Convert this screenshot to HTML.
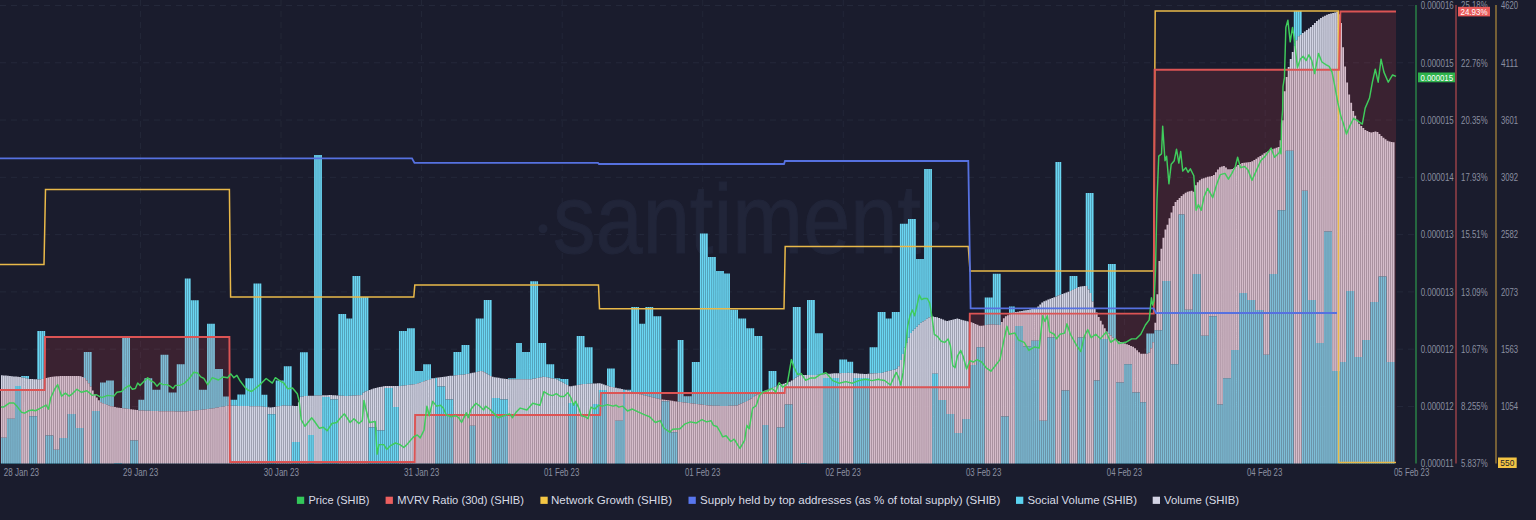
<!DOCTYPE html>
<html><head><meta charset="utf-8"><style>
html,body{margin:0;padding:0;background:#1a1c2d;width:1536px;height:520px;overflow:hidden;position:relative;font-family:"Liberation Sans",sans-serif}
.sq{position:absolute;top:497px;width:7.5px;height:7.5px}
.lt{position:absolute;top:492.5px;font-size:12.6px;line-height:15px;color:#d5d8e2;white-space:nowrap}
</style></head><body>
<svg width="1536" height="520" viewBox="0 0 1536 520" style="position:absolute;left:0;top:0">
<line x1="0" y1="5.5" x2="1414" y2="5.5" stroke="#24283a" stroke-width="1" stroke-dasharray="6 5"/>
<line x1="0" y1="62.78" x2="1414" y2="62.78" stroke="#24283a" stroke-width="1" stroke-dasharray="6 5"/>
<line x1="0" y1="120.06" x2="1414" y2="120.06" stroke="#24283a" stroke-width="1" stroke-dasharray="6 5"/>
<line x1="0" y1="177.34" x2="1414" y2="177.34" stroke="#24283a" stroke-width="1" stroke-dasharray="6 5"/>
<line x1="0" y1="234.62" x2="1414" y2="234.62" stroke="#24283a" stroke-width="1" stroke-dasharray="6 5"/>
<line x1="0" y1="291.9" x2="1414" y2="291.9" stroke="#24283a" stroke-width="1" stroke-dasharray="6 5"/>
<line x1="0" y1="349.18" x2="1414" y2="349.18" stroke="#24283a" stroke-width="1" stroke-dasharray="6 5"/>
<line x1="0" y1="406.46" x2="1414" y2="406.46" stroke="#24283a" stroke-width="1" stroke-dasharray="6 5"/>
<line x1="140.5" y1="0" x2="140.5" y2="463" stroke="#222637" stroke-width="1" stroke-dasharray="6 5"/>
<line x1="281" y1="0" x2="281" y2="463" stroke="#222637" stroke-width="1" stroke-dasharray="6 5"/>
<line x1="421.5" y1="0" x2="421.5" y2="463" stroke="#222637" stroke-width="1" stroke-dasharray="6 5"/>
<line x1="562.2" y1="0" x2="562.2" y2="463" stroke="#222637" stroke-width="1" stroke-dasharray="6 5"/>
<line x1="702.7" y1="0" x2="702.7" y2="463" stroke="#222637" stroke-width="1" stroke-dasharray="6 5"/>
<line x1="843.3" y1="0" x2="843.3" y2="463" stroke="#222637" stroke-width="1" stroke-dasharray="6 5"/>
<line x1="984" y1="0" x2="984" y2="463" stroke="#222637" stroke-width="1" stroke-dasharray="6 5"/>
<line x1="1124.5" y1="0" x2="1124.5" y2="463" stroke="#222637" stroke-width="1" stroke-dasharray="6 5"/>
<line x1="1265.2" y1="0" x2="1265.2" y2="463" stroke="#222637" stroke-width="1" stroke-dasharray="6 5"/>
<text x="553" y="253" font-family="Liberation Sans" font-size="98" fill="#212539" stroke="#212539" stroke-width="1" textLength="368" lengthAdjust="spacingAndGlyphs">santiment</text>
<circle cx="543" cy="228.8" r="4.5" fill="#212539"/>
<circle cx="935" cy="226" r="4.5" fill="#212539"/>
<path d="M1 375.19h1.75v62.56h-1.75zM3.02 375.39h1.75v62.36h-1.75zM5.04 375.59h1.75v62.16h-1.75zM7.06 375.79h1.75v42.96h-1.75zM9.08 376h1.75v42.75h-1.75zM11.1 376.2h1.75v42.55h-1.75zM13.12 376.4h1.75v42.35h-1.75zM15.14 376.6h1.75v9.4h-1.75zM17.16 376.8h1.75v9.2h-1.75zM19.18 377.01h1.75v8.99h-1.75zM29.28 379.01h1.75v37.24h-1.75zM31.3 379.11h1.75v37.14h-1.75zM33.32 379.21h1.75v37.04h-1.75zM35.34 379.31h1.75v36.94h-1.75zM45.44 377.92h1.75v57.48h-1.75zM47.46 377.42h1.75v57.98h-1.75zM49.48 376.96h1.75v58.44h-1.75zM51.5 376.76h1.75v58.64h-1.75zM53.52 376.56h1.75v73.19h-1.75zM55.54 376.36h1.75v73.39h-1.75zM57.56 376.16h1.75v73.59h-1.75zM59.58 376h1.75v62h-1.75zM61.6 376h1.75v62h-1.75zM63.62 376h1.75v62h-1.75zM65.64 376h1.75v62h-1.75zM67.66 376h1.75v38h-1.75zM69.68 376h1.75v38h-1.75zM71.7 376h1.75v38h-1.75zM73.72 376h1.75v38h-1.75zM75.74 376h1.75v52h-1.75zM77.76 376h1.75v52h-1.75zM79.78 376.26h1.75v51.74h-1.75zM81.8 377.07h1.75v50.93h-1.75zM91.9 390.55h1.75v20.45h-1.75zM93.92 394.59h1.75v16.41h-1.75zM95.94 397.54h1.75v13.46h-1.75zM97.96 400.37h1.75v10.63h-1.75zM114.12 407h1.75v56h-1.75zM116.14 407.4h1.75v55.6h-1.75zM118.16 407.81h1.75v55.19h-1.75zM120.18 408.11h1.75v54.89h-1.75zM130.28 409.17h1.75v31.23h-1.75zM132.3 409.48h1.75v30.92h-1.75zM134.32 409.78h1.75v30.62h-1.75zM136.34 410.08h1.75v30.32h-1.75zM267.64 407.32h1.75v6.98h-1.75zM269.66 407.43h1.75v6.87h-1.75zM271.68 407.15h1.75v7.15h-1.75zM273.7 406.88h1.75v7.42h-1.75zM291.88 405.84h1.75v36.16h-1.75zM293.9 405.9h1.75v36.1h-1.75zM295.92 405.96h1.75v36.04h-1.75zM297.94 402.33h1.75v39.67h-1.75zM308.04 395.85h1.75v39.15h-1.75zM310.06 395.77h1.75v39.23h-1.75zM312.08 395.69h1.75v39.31h-1.75zM322.18 395.31h1.75v1.69h-1.75zM324.2 395.23h1.75v1.77h-1.75zM326.22 395.15h1.75v1.85h-1.75zM328.24 395.07h1.75v1.93h-1.75zM330.26 395.01h1.75v4.59h-1.75zM332.28 395.13h1.75v4.47h-1.75zM334.3 395.26h1.75v4.34h-1.75zM336.32 395.39h1.75v4.21h-1.75zM368.64 389.99h1.75v37.41h-1.75zM370.66 389.26h1.75v38.14h-1.75zM372.68 388.53h1.75v38.87h-1.75zM374.7 387.88h1.75v39.51h-1.75zM376.72 387.48h1.75v43.12h-1.75zM378.74 387.08h1.75v43.52h-1.75zM380.76 386.67h1.75v43.93h-1.75zM382.78 386.27h1.75v44.33h-1.75zM384.8 386h1.75v2h-1.75zM386.82 386h1.75v2h-1.75zM388.84 386h1.75v2h-1.75zM390.86 386h1.75v2h-1.75zM392.88 386h1.75v21h-1.75zM394.9 386h1.75v21h-1.75zM396.92 386h1.75v21h-1.75zM435.3 377.84h1.75v0.16h-1.75zM437.32 377.55h1.75v8.95h-1.75zM439.34 377.26h1.75v9.24h-1.75zM441.36 376.97h1.75v9.53h-1.75zM443.38 376.68h1.75v9.82h-1.75zM445.4 376.39h1.75v23.21h-1.75zM447.42 376.1h1.75v23.5h-1.75zM449.44 375.87h1.75v23.73h-1.75zM451.46 375.67h1.75v23.93h-1.75zM469.64 373.23h1.75v52.47h-1.75zM471.66 372.8h1.75v52.9h-1.75zM473.68 372.38h1.75v53.32h-1.75zM491.86 376.82h1.75v21.18h-1.75zM493.88 377.15h1.75v20.85h-1.75zM495.9 377.48h1.75v20.52h-1.75zM497.92 377.8h1.75v20.2h-1.75zM499.94 378.13h1.75v21.47h-1.75zM501.96 378.46h1.75v21.14h-1.75zM503.98 378.79h1.75v20.81h-1.75zM506 379.12h1.75v20.48h-1.75zM568.62 386.22h1.75v16.78h-1.75zM570.64 386.21h1.75v16.79h-1.75zM572.66 385.82h1.75v17.18h-1.75zM574.68 385.43h1.75v17.57h-1.75zM592.86 383.49h1.75v20.51h-1.75zM594.88 383.4h1.75v20.6h-1.75zM596.9 383.3h1.75v20.7h-1.75zM598.92 383.21h1.75v6.79h-1.75zM600.94 383.8h1.75v6.2h-1.75zM602.96 384.47h1.75v5.53h-1.75zM604.98 385.13h1.75v4.87h-1.75zM615.08 387.73h1.75v33.07h-1.75zM617.1 388.14h1.75v32.66h-1.75zM619.12 388.56h1.75v32.24h-1.75zM621.14 388.98h1.75v31.82h-1.75zM623.16 389.39h1.75v0.41h-1.75zM661.54 399.47h1.75v1.73h-1.75zM663.56 399.75h1.75v1.45h-1.75zM665.58 400.03h1.75v1.17h-1.75zM667.6 400.3h1.75v0.9h-1.75zM669.62 400.58h1.75v31.72h-1.75zM671.64 400.86h1.75v31.44h-1.75zM673.66 401.14h1.75v31.16h-1.75zM675.68 401.41h1.75v30.89h-1.75zM762.54 391.56h1.75v33.44h-1.75zM764.56 390.57h1.75v34.43h-1.75zM766.58 389.63h1.75v35.37h-1.75zM776.68 385.82h1.75v41.58h-1.75zM778.7 385.06h1.75v42.34h-1.75zM780.72 384.37h1.75v43.03h-1.75zM782.74 383.71h1.75v43.69h-1.75zM784.76 383.04h1.75v21.46h-1.75zM786.78 382.37h1.75v22.13h-1.75zM788.8 381.71h1.75v22.79h-1.75zM790.82 380.48h1.75v24.02h-1.75zM800.92 375h1.75v88h-1.75zM802.94 375h1.75v88h-1.75zM804.96 375h1.75v88h-1.75zM823.14 374.25h1.75v3.75h-1.75zM825.16 374.06h1.75v3.94h-1.75zM827.18 373.87h1.75v4.13h-1.75zM829.2 373.68h1.75v4.32h-1.75zM831.22 373.49h1.75v4.51h-1.75zM833.24 373.36h1.75v4.64h-1.75zM835.26 373.28h1.75v4.72h-1.75zM837.28 373.21h1.75v4.79h-1.75zM853.44 373.2h1.75v4.8h-1.75zM855.46 373.35h1.75v4.65h-1.75zM857.48 373.5h1.75v4.5h-1.75zM859.5 373.65h1.75v4.35h-1.75zM861.52 373.8h1.75v4.2h-1.75zM863.54 373.96h1.75v4.04h-1.75zM865.56 373.9h1.75v4.1h-1.75zM867.58 373.76h1.75v4.24h-1.75zM932.22 316.55h1.75v57.15h-1.75zM934.24 316.89h1.75v56.81h-1.75zM936.26 317.25h1.75v56.45h-1.75zM938.28 318.04h1.75v81.96h-1.75zM940.3 318.83h1.75v81.17h-1.75zM942.32 319.62h1.75v80.38h-1.75zM944.34 320.4h1.75v79.6h-1.75zM946.36 321.04h1.75v92.96h-1.75zM948.38 320.51h1.75v93.49h-1.75zM950.4 319.99h1.75v94.01h-1.75zM952.42 319.46h1.75v94.54h-1.75zM954.44 318.94h1.75v114.06h-1.75zM956.46 318.59h1.75v114.41h-1.75zM958.48 319.11h1.75v113.89h-1.75zM960.5 319.64h1.75v113.36h-1.75zM962.52 320.16h1.75v98.84h-1.75zM964.54 320.69h1.75v98.31h-1.75zM966.56 321.22h1.75v97.78h-1.75zM968.58 321.8h1.75v97.2h-1.75zM970.6 322.37h1.75v42.63h-1.75zM972.62 323.03h1.75v41.97h-1.75zM974.64 323.95h1.75v41.05h-1.75zM976.66 324.87h1.75v22.43h-1.75zM978.68 325.8h1.75v21.5h-1.75zM980.7 325.75h1.75v21.55h-1.75zM982.72 325.42h1.75v21.88h-1.75zM1000.9 321.9h1.75v94.7h-1.75zM1002.92 318.37h1.75v98.23h-1.75zM1004.94 316.33h1.75v100.27h-1.75zM1006.96 315.32h1.75v101.28h-1.75zM1015.04 311.97h1.75v14.03h-1.75zM1017.06 311.63h1.75v14.37h-1.75zM1019.08 311.29h1.75v14.71h-1.75zM1021.1 310.95h1.75v15.05h-1.75zM1023.12 310.62h1.75v35.98h-1.75zM1025.14 310.28h1.75v36.32h-1.75zM1027.16 309.91h1.75v36.69h-1.75zM1029.18 309.41h1.75v37.19h-1.75zM1031.2 308.9h1.75v31.9h-1.75zM1033.22 308.4h1.75v32.4h-1.75zM1035.24 307.89h1.75v32.91h-1.75zM1037.26 306.49h1.75v34.31h-1.75zM1039.28 304.47h1.75v116.33h-1.75zM1041.3 302.45h1.75v118.35h-1.75zM1043.32 301.28h1.75v119.52h-1.75zM1045.34 300.41h1.75v120.39h-1.75zM1047.36 299.55h1.75v37.95h-1.75zM1049.38 298.68h1.75v38.82h-1.75zM1051.4 297.9h1.75v39.6h-1.75zM1053.42 297.14h1.75v40.36h-1.75zM1061.5 294.11h1.75v96.29h-1.75zM1063.52 293.35h1.75v97.05h-1.75zM1065.54 292.6h1.75v97.8h-1.75zM1067.56 291.84h1.75v98.56h-1.75zM1077.66 286.91h1.75v50.59h-1.75zM1079.68 286.62h1.75v50.88h-1.75zM1081.7 286.34h1.75v51.16h-1.75zM1083.72 286.05h1.75v51.45h-1.75zM1093.82 308.08h1.75v72.52h-1.75zM1095.84 312.53h1.75v68.07h-1.75zM1097.86 316.97h1.75v63.63h-1.75zM1099.88 320.86h1.75v18.14h-1.75zM1101.9 324.56h1.75v14.44h-1.75zM1103.92 328.27h1.75v10.73h-1.75zM1105.94 331.42h1.75v7.58h-1.75zM1116.04 340.57h1.75v42.03h-1.75zM1118.06 341.33h1.75v41.27h-1.75zM1120.08 342.09h1.75v40.51h-1.75zM1122.1 342.85h1.75v39.75h-1.75zM1124.12 343.61h1.75v20.69h-1.75zM1126.14 344.37h1.75v19.93h-1.75zM1128.16 345.12h1.75v19.18h-1.75zM1130.18 345.88h1.75v18.42h-1.75zM1132.2 346.64h1.75v45.76h-1.75zM1134.22 348.17h1.75v44.23h-1.75zM1136.24 350.19h1.75v42.21h-1.75zM1138.26 352.21h1.75v40.19h-1.75zM1140.28 353.85h1.75v48.35h-1.75zM1142.3 353.85h1.75v48.35h-1.75zM1144.32 353.85h1.75v48.35h-1.75zM1154.42 322.73h1.75v7.57h-1.75zM1156.44 294.17h1.75v36.13h-1.75zM1158.46 260.96h1.75v69.34h-1.75zM1160.48 248.63h1.75v81.67h-1.75zM1162.5 237.64h1.75v43.36h-1.75zM1164.52 229.52h1.75v51.48h-1.75zM1166.54 224.84h1.75v56.16h-1.75zM1168.56 218.24h1.75v62.76h-1.75zM1170.58 212.5h1.75v151.8h-1.75zM1172.6 206.03h1.75v158.27h-1.75zM1174.62 202.12h1.75v162.18h-1.75zM1176.64 200.1h1.75v164.2h-1.75zM1178.66 198.08h1.75v16.42h-1.75zM1180.68 196.06h1.75v18.44h-1.75zM1182.7 194.37h1.75v20.13h-1.75zM1184.72 192.85h1.75v116.85h-1.75zM1186.74 191.69h1.75v118.01h-1.75zM1188.76 191.19h1.75v118.51h-1.75zM1190.78 190.79h1.75v118.91h-1.75zM1192.8 191.8h1.75v82.2h-1.75zM1194.82 185.32h1.75v88.68h-1.75zM1196.84 182.22h1.75v91.78h-1.75zM1198.86 180.2h1.75v93.8h-1.75zM1200.88 178.85h1.75v156.95h-1.75zM1202.9 178.18h1.75v157.62h-1.75zM1204.92 177.5h1.75v158.3h-1.75zM1206.94 176.85h1.75v158.95h-1.75zM1208.96 176.45h1.75v139.75h-1.75zM1210.98 176.04h1.75v140.16h-1.75zM1213 175.09h1.75v141.11h-1.75zM1215.02 172.27h1.75v143.93h-1.75zM1217.04 169.44h1.75v235.06h-1.75zM1219.06 167.36h1.75v237.14h-1.75zM1221.08 166.55h1.75v237.95h-1.75zM1223.1 165.95h1.75v212.35h-1.75zM1225.12 167.57h1.75v210.73h-1.75zM1227.14 169.18h1.75v209.12h-1.75zM1229.16 169.26h1.75v209.04h-1.75zM1231.18 168.96h1.75v181.04h-1.75zM1233.2 168.03h1.75v181.97h-1.75zM1235.22 166.51h1.75v183.49h-1.75zM1237.24 165.11h1.75v184.89h-1.75zM1239.26 164.1h1.75v128.9h-1.75zM1241.28 163.09h1.75v129.91h-1.75zM1243.3 162.8h1.75v130.2h-1.75zM1245.32 162.55h1.75v130.45h-1.75zM1247.34 162.3h1.75v137.7h-1.75zM1249.36 162.05h1.75v137.95h-1.75zM1251.38 161.37h1.75v138.63h-1.75zM1253.4 160.03h1.75v139.97h-1.75zM1255.42 158.68h1.75v151.32h-1.75zM1257.44 157.33h1.75v152.67h-1.75zM1259.46 155.98h1.75v154.02h-1.75zM1261.48 154.64h1.75v155.36h-1.75zM1263.5 153.29h1.75v201.51h-1.75zM1265.52 152.13h1.75v202.67h-1.75zM1267.54 151.12h1.75v203.68h-1.75zM1269.56 150.11h1.75v123.89h-1.75zM1271.58 149.13h1.75v124.87h-1.75zM1273.6 148.46h1.75v125.54h-1.75zM1275.62 147.79h1.75v126.21h-1.75zM1277.64 147.11h1.75v63.09h-1.75zM1279.66 140.33h1.75v69.87h-1.75zM1281.68 120.31h1.75v89.89h-1.75zM1283.7 91.22h1.75v118.98h-1.75zM1285.72 77.11h1.75v73.69h-1.75zM1287.74 66.88h1.75v83.92h-1.75zM1289.76 59.01h1.75v91.79h-1.75zM1291.78 51.93h1.75v98.87h-1.75zM1301.88 33.12h1.75v157.68h-1.75zM1303.9 31.61h1.75v159.19h-1.75zM1305.92 30.09h1.75v160.71h-1.75zM1307.94 28.57h1.75v271.43h-1.75zM1309.96 26.95h1.75v273.05h-1.75zM1311.98 24.93h1.75v275.07h-1.75zM1314 22.91h1.75v277.09h-1.75zM1316.02 21.07h1.75v321.93h-1.75zM1318.04 19.56h1.75v323.44h-1.75zM1320.06 18.05h1.75v324.95h-1.75zM1322.08 16.79h1.75v326.21h-1.75zM1324.1 15.78h1.75v215.62h-1.75zM1326.12 14.77h1.75v216.63h-1.75zM1328.14 14.09h1.75v217.31h-1.75zM1330.16 13.59h1.75v217.81h-1.75zM1332.18 13.08h1.75v357.92h-1.75zM1334.2 12.44h1.75v358.56h-1.75zM1336.22 11.77h1.75v359.23h-1.75zM1338.24 14.21h1.75v356.79h-1.75zM1340.26 22.9h1.75v339.1h-1.75zM1342.28 47.17h1.75v314.83h-1.75zM1344.3 66.57h1.75v295.43h-1.75zM1346.32 82.46h1.75v208.44h-1.75zM1348.34 94.55h1.75v196.35h-1.75zM1350.36 102.84h1.75v188.06h-1.75zM1352.38 110.91h1.75v179.99h-1.75zM1354.4 115.75h1.75v241.25h-1.75zM1356.42 119.79h1.75v237.21h-1.75zM1358.44 123.84h1.75v233.16h-1.75zM1360.46 125.95h1.75v231.05h-1.75zM1362.48 127.97h1.75v212.03h-1.75zM1364.5 129.9h1.75v210.1h-1.75zM1366.52 130.91h1.75v209.09h-1.75zM1368.54 131.91h1.75v208.09h-1.75zM1370.56 132.56h1.75v169.44h-1.75zM1372.58 132.05h1.75v169.95h-1.75zM1374.6 131.55h1.75v170.45h-1.75zM1376.62 132.02h1.75v169.98h-1.75zM1378.64 134.04h1.75v142.36h-1.75zM1380.66 136.06h1.75v140.34h-1.75zM1382.68 137.81h1.75v138.59h-1.75zM1384.7 139.32h1.75v137.08h-1.75zM1386.72 140.83h1.75v221.17h-1.75zM1388.74 141.58h1.75v220.42h-1.75zM1390.76 141.95h1.75v220.05h-1.75zM1392.78 142.33h1.75v219.67h-1.75z" fill="#d2d4e4"/>
<path d="M21.2 376h1.75v1.42h-1.75zM23.22 376h1.75v1.82h-1.75zM25.24 376h1.75v2.22h-1.75zM27.26 376h1.75v2.63h-1.75zM37.36 331h1.75v48.41h-1.75zM39.38 331h1.75v48.44h-1.75zM41.4 331h1.75v47.93h-1.75zM43.42 331h1.75v47.43h-1.75zM83.82 352h1.75v25.88h-1.75zM85.84 352h1.75v28.4h-1.75zM87.86 352h1.75v31.23h-1.75zM89.88 352h1.75v34.51h-1.75zM99.98 382.6h1.75v19.74h-1.75zM102 382.6h1.75v20.55h-1.75zM104.02 382.6h1.75v21.36h-1.75zM106.04 380.6h1.75v24.17h-1.75zM108.06 380.6h1.75v24.97h-1.75zM110.08 380.6h1.75v25.59h-1.75zM112.1 380.6h1.75v26h-1.75zM122.2 337.5h1.75v70.81h-1.75zM124.22 337.5h1.75v71.01h-1.75zM126.24 337.5h1.75v71.21h-1.75zM128.26 337.5h1.75v71.41h-1.75zM138.36 399.8h1.75v10.59h-1.75zM140.38 399.8h1.75v10.74h-1.75zM142.4 399.8h1.75v10.81h-1.75zM144.42 378.2h1.75v32.49h-1.75zM146.44 378.2h1.75v32.56h-1.75zM148.46 378.2h1.75v32.63h-1.75zM150.48 378.2h1.75v32.7h-1.75zM152.5 389.7h1.75v21.27h-1.75zM154.52 389.7h1.75v21.34h-1.75zM156.54 389.7h1.75v21.41h-1.75zM158.56 389.7h1.75v21.48h-1.75zM160.58 354.8h1.75v56.42h-1.75zM162.6 354.8h1.75v56.44h-1.75zM164.62 354.8h1.75v56.46h-1.75zM166.64 354.8h1.75v56.49h-1.75zM168.66 392.5h1.75v18.81h-1.75zM170.68 392.5h1.75v18.83h-1.75zM172.7 392.5h1.75v18.86h-1.75zM174.72 392.5h1.75v18.88h-1.75zM176.74 364.2h1.75v47.2h-1.75zM178.76 364.2h1.75v47.23h-1.75zM180.78 364.2h1.75v47.25h-1.75zM182.8 364.2h1.75v47.27h-1.75zM184.82 278.6h1.75v132.9h-1.75zM186.84 278.6h1.75v132.72h-1.75zM188.86 278.6h1.75v132.5h-1.75zM190.88 300.2h1.75v110.68h-1.75zM192.9 300.2h1.75v110.47h-1.75zM194.92 300.2h1.75v110.25h-1.75zM196.94 300.2h1.75v110.03h-1.75zM198.96 389.8h1.75v20.22h-1.75zM200.98 389.8h1.75v19.95h-1.75zM203 389.8h1.75v19.68h-1.75zM205.02 389.8h1.75v19.41h-1.75zM207.04 323.8h1.75v85.14h-1.75zM209.06 323.8h1.75v84.88h-1.75zM211.08 323.8h1.75v84.61h-1.75zM213.1 323.8h1.75v84.34h-1.75zM215.12 369h1.75v38.82h-1.75zM217.14 369h1.75v38.46h-1.75zM219.16 369h1.75v38.1h-1.75zM221.18 369h1.75v37.74h-1.75zM223.2 396.5h1.75v9.88h-1.75zM225.22 396.5h1.75v9.52h-1.75zM227.24 396.5h1.75v9.16h-1.75zM229.26 399.8h1.75v5.75h-1.75zM231.28 399.8h1.75v5.84h-1.75zM233.3 399.8h1.75v5.94h-1.75zM235.32 399.8h1.75v6.03h-1.75zM237.34 394.4h1.75v11.52h-1.75zM239.36 394.4h1.75v11.6h-1.75zM241.38 394.4h1.75v11.63h-1.75zM243.4 394.4h1.75v11.66h-1.75zM245.42 378.2h1.75v27.89h-1.75zM247.44 378.2h1.75v27.92h-1.75zM249.46 378.2h1.75v27.96h-1.75zM251.48 378.2h1.75v27.99h-1.75zM253.5 283.5h1.75v122.72h-1.75zM255.52 283.5h1.75v122.75h-1.75zM257.54 283.5h1.75v122.78h-1.75zM259.56 283.5h1.75v122.85h-1.75zM261.58 394.7h1.75v11.89h-1.75zM263.6 394.7h1.75v12.14h-1.75zM265.62 394.7h1.75v12.38h-1.75zM275.72 380.6h1.75v26h-1.75zM277.74 380.6h1.75v25.73h-1.75zM279.76 380.6h1.75v25.45h-1.75zM281.78 380.6h1.75v24.92h-1.75zM283.8 366.2h1.75v39.38h-1.75zM285.82 366.2h1.75v39.45h-1.75zM287.84 366.2h1.75v39.51h-1.75zM289.86 366.2h1.75v39.57h-1.75zM299.96 352.2h1.75v44.63h-1.75zM301.98 352.2h1.75v44.23h-1.75zM304 352.2h1.75v43.82h-1.75zM306.02 352.2h1.75v43.73h-1.75zM314.1 155h1.75v240.62h-1.75zM316.12 155h1.75v240.54h-1.75zM318.14 155h1.75v240.46h-1.75zM320.16 155h1.75v240.38h-1.75zM338.34 314h1.75v81.51h-1.75zM340.36 314h1.75v81.64h-1.75zM342.38 314h1.75v81.77h-1.75zM344.4 314h1.75v81.89h-1.75zM346.42 318.5h1.75v77.48h-1.75zM348.44 318.5h1.75v77.35h-1.75zM350.46 318.5h1.75v77.21h-1.75zM352.48 276h1.75v119.58h-1.75zM354.5 276h1.75v119.44h-1.75zM356.52 276h1.75v119.31h-1.75zM358.54 276h1.75v119.17h-1.75zM360.56 297h1.75v98.04h-1.75zM362.58 297h1.75v95.82h-1.75zM364.6 297h1.75v94.46h-1.75zM366.62 297h1.75v93.73h-1.75zM398.94 331h1.75v55h-1.75zM400.96 331h1.75v54.77h-1.75zM402.98 331h1.75v54.52h-1.75zM405 331h1.75v54.27h-1.75zM407.02 328.3h1.75v56.71h-1.75zM409.04 328.3h1.75v56.46h-1.75zM411.06 328.3h1.75v56.21h-1.75zM413.08 328.3h1.75v55.96h-1.75zM415.1 371h1.75v13h-1.75zM417.12 371h1.75v12.33h-1.75zM419.14 371h1.75v11.65h-1.75zM421.16 371h1.75v10.98h-1.75zM423.18 364.3h1.75v17h-1.75zM425.2 364.3h1.75v16.32h-1.75zM427.22 364.3h1.75v15.64h-1.75zM429.24 364.3h1.75v14.97h-1.75zM431.26 378h1.75v0.59h-1.75zM433.28 378h1.75v0.13h-1.75zM453.48 352h1.75v23.46h-1.75zM455.5 352h1.75v23.26h-1.75zM457.52 352h1.75v23.06h-1.75zM459.54 352h1.75v22.86h-1.75zM461.56 345h1.75v29.66h-1.75zM463.58 345h1.75v29.45h-1.75zM465.6 345h1.75v29.09h-1.75zM467.62 345h1.75v28.66h-1.75zM475.7 318.5h1.75v53.45h-1.75zM477.72 318.5h1.75v53.02h-1.75zM479.74 318.5h1.75v52.59h-1.75zM481.76 318.5h1.75v52.67h-1.75zM483.78 300h1.75v72.37h-1.75zM485.8 300h1.75v73.56h-1.75zM487.82 300h1.75v74.75h-1.75zM489.84 300h1.75v75.94h-1.75zM508.02 378.3h1.75v1h-1.75zM510.04 378.3h1.75v1h-1.75zM512.06 378.3h1.75v1h-1.75zM514.08 378.3h1.75v1h-1.75zM516.1 343h1.75v36.3h-1.75zM518.12 343h1.75v36.3h-1.75zM520.14 343h1.75v36.3h-1.75zM522.16 352h1.75v27.3h-1.75zM524.18 352h1.75v27.3h-1.75zM526.2 352h1.75v27.3h-1.75zM528.22 352h1.75v27.3h-1.75zM530.24 281.2h1.75v98.08h-1.75zM532.26 281.2h1.75v97.67h-1.75zM534.28 281.2h1.75v97.27h-1.75zM536.3 281.2h1.75v96.87h-1.75zM538.32 343h1.75v34.66h-1.75zM540.34 343h1.75v34.26h-1.75zM542.36 343h1.75v33.85h-1.75zM544.38 343h1.75v33.95h-1.75zM546.4 364.3h1.75v13.06h-1.75zM548.42 364.3h1.75v13.46h-1.75zM550.44 364.3h1.75v13.86h-1.75zM552.46 364.3h1.75v14.27h-1.75zM554.48 378.3h1.75v0.67h-1.75zM556.5 378.3h1.75v1.21h-1.75zM558.52 378.3h1.75v2.33h-1.75zM560.54 379h1.75v2.75h-1.75zM562.56 379h1.75v3.86h-1.75zM564.58 379h1.75v4.98h-1.75zM566.6 379h1.75v6.1h-1.75zM576.7 336h1.75v49.04h-1.75zM578.72 336h1.75v48.65h-1.75zM580.74 336h1.75v48.27h-1.75zM582.76 336h1.75v47.97h-1.75zM584.78 347.3h1.75v36.58h-1.75zM586.8 347.3h1.75v36.48h-1.75zM588.82 347.3h1.75v36.38h-1.75zM590.84 347.3h1.75v36.29h-1.75zM607 368.5h1.75v17.3h-1.75zM609.02 368.5h1.75v17.97h-1.75zM611.04 368.5h1.75v18.39h-1.75zM613.06 368.5h1.75v18.81h-1.75zM625.18 389.8h1.75v0.02h-1.75zM627.2 389.8h1.75v0.64h-1.75zM629.22 389.8h1.75v1.25h-1.75zM631.24 307h1.75v84.67h-1.75zM633.26 307h1.75v85.29h-1.75zM635.28 307h1.75v85.91h-1.75zM637.3 307h1.75v86.53h-1.75zM639.32 323.8h1.75v70.35h-1.75zM641.34 323.8h1.75v70.95h-1.75zM643.36 323.8h1.75v71.47h-1.75zM645.38 307h1.75v88.78h-1.75zM647.4 307h1.75v89.29h-1.75zM649.42 307h1.75v89.8h-1.75zM651.44 307h1.75v90.31h-1.75zM653.46 316.2h1.75v81.62h-1.75zM655.48 316.2h1.75v82.13h-1.75zM657.5 316.2h1.75v82.64h-1.75zM659.52 316.2h1.75v82.99h-1.75zM677.7 340h1.75v61.68h-1.75zM679.72 340h1.75v61.96h-1.75zM681.74 340h1.75v62.23h-1.75zM683.76 396.3h1.75v6.2h-1.75zM685.78 396.3h1.75v6.48h-1.75zM687.8 396.3h1.75v6.75h-1.75zM689.82 396.3h1.75v7.02h-1.75zM691.84 362h1.75v41.59h-1.75zM693.86 362h1.75v41.84h-1.75zM695.88 362h1.75v42.09h-1.75zM697.9 362h1.75v42.35h-1.75zM699.92 233.4h1.75v171.2h-1.75zM701.94 233.4h1.75v171.45h-1.75zM703.96 233.4h1.75v171.7h-1.75zM705.98 233.4h1.75v171.96h-1.75zM708 257h1.75v148.53h-1.75zM710.02 257h1.75v148.59h-1.75zM712.04 257h1.75v148.65h-1.75zM714.06 257h1.75v148.72h-1.75zM716.08 271h1.75v134.78h-1.75zM718.1 271h1.75v134.84h-1.75zM720.12 271h1.75v134.91h-1.75zM722.14 271h1.75v134.97h-1.75zM724.16 273.4h1.75v132.56h-1.75zM726.18 273.4h1.75v132.48h-1.75zM728.2 273.4h1.75v132.4h-1.75zM730.22 309.7h1.75v96.03h-1.75zM732.24 309.7h1.75v95.95h-1.75zM734.26 309.7h1.75v95.87h-1.75zM736.28 309.7h1.75v95.73h-1.75zM738.3 318.5h1.75v86.06h-1.75zM740.32 318.5h1.75v85.2h-1.75zM742.34 318.5h1.75v84.33h-1.75zM744.36 318.5h1.75v83.46h-1.75zM746.38 328.3h1.75v72.73h-1.75zM748.4 328.3h1.75v71.42h-1.75zM750.42 328.3h1.75v70.11h-1.75zM752.44 328.3h1.75v68.8h-1.75zM754.46 336h1.75v59.78h-1.75zM756.48 336h1.75v58.53h-1.75zM758.5 336h1.75v57.54h-1.75zM760.52 336h1.75v56.55h-1.75zM768.6 371h1.75v17.87h-1.75zM770.62 371h1.75v17.11h-1.75zM772.64 371h1.75v16.34h-1.75zM774.66 371h1.75v15.58h-1.75zM792.84 307h1.75v72.15h-1.75zM794.86 307h1.75v70.81h-1.75zM796.88 307h1.75v69.48h-1.75zM798.9 307h1.75v68.15h-1.75zM806.98 300h1.75v75h-1.75zM809 300h1.75v75h-1.75zM811.02 300h1.75v75h-1.75zM813.04 300h1.75v75h-1.75zM815.06 333.2h1.75v41.8h-1.75zM817.08 333.2h1.75v41.62h-1.75zM819.1 333.2h1.75v41.43h-1.75zM821.12 333.2h1.75v41.24h-1.75zM839.3 359.4h1.75v13.73h-1.75zM841.32 359.4h1.75v13.66h-1.75zM843.34 359.4h1.75v13.58h-1.75zM845.36 359.4h1.75v13.5h-1.75zM847.38 361.7h1.75v11.13h-1.75zM849.4 361.7h1.75v11.2h-1.75zM851.42 361.7h1.75v11.35h-1.75zM869.6 347.3h1.75v26.31h-1.75zM871.62 347.3h1.75v26.17h-1.75zM873.64 347.3h1.75v26.03h-1.75zM875.66 347.3h1.75v25.89h-1.75zM877.68 312h1.75v61.04h-1.75zM879.7 312h1.75v60.9h-1.75zM881.72 312h1.75v60.64h-1.75zM883.74 312h1.75v60.1h-1.75zM885.76 318.5h1.75v53.05h-1.75zM887.78 318.5h1.75v52.51h-1.75zM889.8 318.5h1.75v51.97h-1.75zM891.82 312h1.75v57.93h-1.75zM893.84 312h1.75v57.38h-1.75zM895.86 312h1.75v56.84h-1.75zM897.88 312h1.75v54.21h-1.75zM899.9 223.7h1.75v136.4h-1.75zM901.92 223.7h1.75v130.28h-1.75zM903.94 223.7h1.75v124.16h-1.75zM905.96 223.7h1.75v119.1h-1.75zM907.98 219h1.75v118.86h-1.75zM910 219h1.75v113.91h-1.75zM912.02 219h1.75v111.74h-1.75zM914.04 219h1.75v109.76h-1.75zM916.06 259h1.75v67.78h-1.75zM918.08 259h1.75v65.8h-1.75zM920.1 259h1.75v63.82h-1.75zM922.12 259h1.75v62.48h-1.75zM924.14 169.1h1.75v151.05h-1.75zM926.16 169.1h1.75v149.72h-1.75zM928.18 169.1h1.75v148.38h-1.75zM930.2 169.1h1.75v147.11h-1.75zM984.74 297.6h1.75v27.5h-1.75zM986.76 297.6h1.75v27.18h-1.75zM988.78 297.6h1.75v26.86h-1.75zM990.8 297.6h1.75v26.9h-1.75zM992.82 273.7h1.75v50.92h-1.75zM994.84 273.7h1.75v51.04h-1.75zM996.86 273.7h1.75v51.16h-1.75zM998.88 273.7h1.75v51.29h-1.75zM1008.98 306.4h1.75v7.91h-1.75zM1011 306.4h1.75v6.9h-1.75zM1013.02 306.4h1.75v5.9h-1.75zM1055.44 162h1.75v134.38h-1.75zM1057.46 162h1.75v133.62h-1.75zM1059.48 162h1.75v132.87h-1.75zM1069.58 276h1.75v14.93h-1.75zM1071.6 276h1.75v13.92h-1.75zM1073.62 276h1.75v12.91h-1.75zM1075.64 276h1.75v11.9h-1.75zM1085.74 193h1.75v92.88h-1.75zM1087.76 193h1.75v96.42h-1.75zM1089.78 193h1.75v99.96h-1.75zM1091.8 193h1.75v108.42h-1.75zM1107.96 264h1.75v69.44h-1.75zM1109.98 264h1.75v71.46h-1.75zM1112 264h1.75v73.48h-1.75zM1114.02 264h1.75v75.5h-1.75zM1146.34 333.6h1.75v20.25h-1.75zM1148.36 333.6h1.75v19.15h-1.75zM1150.38 333.6h1.75v14.77h-1.75zM1152.4 333.6h1.75v8.61h-1.75zM1293.8 11h1.75v34.67h-1.75zM1295.82 11h1.75v29.35h-1.75zM1297.84 11h1.75v25.3h-1.75zM1299.86 11h1.75v23.63h-1.75z" fill="#6ad6f2"/>
<path d="M21.2 377.42h1.75v86.08h-1.75zM23.22 377.82h1.75v85.68h-1.75zM25.24 378.22h1.75v85.28h-1.75zM27.26 378.63h1.75v84.87h-1.75zM37.36 379.41h1.75v84.09h-1.75zM39.38 379.44h1.75v84.06h-1.75zM41.4 378.93h1.75v84.57h-1.75zM43.42 378.43h1.75v85.07h-1.75zM83.82 377.88h1.75v85.62h-1.75zM85.84 380.4h1.75v83.1h-1.75zM87.86 383.23h1.75v80.27h-1.75zM89.88 386.51h1.75v76.99h-1.75zM99.98 402.34h1.75v61.16h-1.75zM102 403.15h1.75v60.35h-1.75zM104.02 403.96h1.75v59.54h-1.75zM106.04 404.77h1.75v58.73h-1.75zM108.06 405.57h1.75v57.93h-1.75zM110.08 406.19h1.75v57.31h-1.75zM112.1 406.6h1.75v56.9h-1.75zM122.2 408.31h1.75v55.19h-1.75zM124.22 408.51h1.75v54.99h-1.75zM126.24 408.71h1.75v54.79h-1.75zM128.26 408.91h1.75v54.59h-1.75zM138.36 410.39h1.75v53.11h-1.75zM140.38 410.54h1.75v52.96h-1.75zM142.4 410.61h1.75v52.89h-1.75zM144.42 410.69h1.75v52.81h-1.75zM146.44 410.76h1.75v52.74h-1.75zM148.46 410.83h1.75v52.67h-1.75zM150.48 410.9h1.75v52.6h-1.75zM152.5 410.97h1.75v52.53h-1.75zM154.52 411.04h1.75v52.46h-1.75zM156.54 411.11h1.75v52.39h-1.75zM158.56 411.18h1.75v52.32h-1.75zM160.58 411.22h1.75v52.28h-1.75zM162.6 411.24h1.75v52.26h-1.75zM164.62 411.26h1.75v52.24h-1.75zM166.64 411.29h1.75v52.21h-1.75zM168.66 411.31h1.75v52.19h-1.75zM170.68 411.33h1.75v52.17h-1.75zM172.7 411.36h1.75v52.14h-1.75zM174.72 411.38h1.75v52.12h-1.75zM176.74 411.4h1.75v52.1h-1.75zM178.76 411.43h1.75v52.07h-1.75zM180.78 411.45h1.75v52.05h-1.75zM182.8 411.47h1.75v52.03h-1.75zM184.82 411.5h1.75v52h-1.75zM186.84 411.32h1.75v52.18h-1.75zM188.86 411.1h1.75v52.4h-1.75zM190.88 410.88h1.75v52.62h-1.75zM192.9 410.67h1.75v52.83h-1.75zM194.92 410.45h1.75v53.05h-1.75zM196.94 410.23h1.75v53.27h-1.75zM198.96 410.02h1.75v53.48h-1.75zM200.98 409.75h1.75v53.75h-1.75zM203 409.48h1.75v54.02h-1.75zM205.02 409.21h1.75v54.29h-1.75zM207.04 408.94h1.75v54.56h-1.75zM209.06 408.68h1.75v54.82h-1.75zM211.08 408.41h1.75v55.09h-1.75zM213.1 408.14h1.75v55.36h-1.75zM215.12 407.82h1.75v55.68h-1.75zM217.14 407.46h1.75v56.04h-1.75zM219.16 407.1h1.75v56.4h-1.75zM221.18 406.74h1.75v56.76h-1.75zM223.2 406.38h1.75v57.12h-1.75zM225.22 406.02h1.75v57.48h-1.75zM227.24 405.66h1.75v57.84h-1.75zM229.26 405.55h1.75v57.95h-1.75zM231.28 405.64h1.75v57.86h-1.75zM233.3 405.74h1.75v57.76h-1.75zM235.32 405.83h1.75v57.67h-1.75zM237.34 405.92h1.75v57.58h-1.75zM239.36 406h1.75v57.5h-1.75zM241.38 406.03h1.75v57.47h-1.75zM243.4 406.06h1.75v57.44h-1.75zM245.42 406.09h1.75v57.41h-1.75zM247.44 406.12h1.75v57.38h-1.75zM249.46 406.16h1.75v57.34h-1.75zM251.48 406.19h1.75v57.31h-1.75zM253.5 406.22h1.75v57.28h-1.75zM255.52 406.25h1.75v57.25h-1.75zM257.54 406.28h1.75v57.22h-1.75zM259.56 406.35h1.75v57.15h-1.75zM261.58 406.59h1.75v56.91h-1.75zM263.6 406.84h1.75v56.66h-1.75zM265.62 407.08h1.75v56.42h-1.75zM275.72 406.6h1.75v56.9h-1.75zM277.74 406.33h1.75v57.17h-1.75zM279.76 406.05h1.75v57.45h-1.75zM281.78 405.52h1.75v57.98h-1.75zM283.8 405.58h1.75v57.92h-1.75zM285.82 405.65h1.75v57.85h-1.75zM287.84 405.71h1.75v57.79h-1.75zM289.86 405.77h1.75v57.73h-1.75zM299.96 396.83h1.75v66.67h-1.75zM301.98 396.43h1.75v67.07h-1.75zM304 396.02h1.75v67.48h-1.75zM306.02 395.93h1.75v67.57h-1.75zM314.1 395.62h1.75v67.88h-1.75zM316.12 395.54h1.75v67.96h-1.75zM318.14 395.46h1.75v68.04h-1.75zM320.16 395.38h1.75v68.12h-1.75zM338.34 395.51h1.75v67.99h-1.75zM340.36 395.64h1.75v67.86h-1.75zM342.38 395.77h1.75v67.73h-1.75zM344.4 395.89h1.75v67.61h-1.75zM346.42 395.98h1.75v67.52h-1.75zM348.44 395.85h1.75v67.65h-1.75zM350.46 395.71h1.75v67.79h-1.75zM352.48 395.58h1.75v67.92h-1.75zM354.5 395.44h1.75v68.06h-1.75zM356.52 395.31h1.75v68.19h-1.75zM358.54 395.17h1.75v68.33h-1.75zM360.56 395.04h1.75v68.46h-1.75zM362.58 392.82h1.75v70.68h-1.75zM364.6 391.46h1.75v72.04h-1.75zM366.62 390.73h1.75v72.77h-1.75zM398.94 386h1.75v77.5h-1.75zM400.96 385.77h1.75v77.73h-1.75zM402.98 385.52h1.75v77.98h-1.75zM405 385.27h1.75v78.23h-1.75zM407.02 385.01h1.75v78.49h-1.75zM409.04 384.76h1.75v78.74h-1.75zM411.06 384.51h1.75v78.99h-1.75zM413.08 384.26h1.75v79.24h-1.75zM415.1 384h1.75v79.5h-1.75zM417.12 383.33h1.75v80.17h-1.75zM419.14 382.65h1.75v80.85h-1.75zM421.16 381.98h1.75v81.52h-1.75zM423.18 381.3h1.75v82.2h-1.75zM425.2 380.62h1.75v82.88h-1.75zM427.22 379.94h1.75v83.56h-1.75zM429.24 379.27h1.75v84.23h-1.75zM431.26 378.59h1.75v84.91h-1.75zM433.28 378.13h1.75v85.37h-1.75zM453.48 375.46h1.75v88.04h-1.75zM455.5 375.26h1.75v88.24h-1.75zM457.52 375.06h1.75v88.44h-1.75zM459.54 374.86h1.75v88.64h-1.75zM461.56 374.66h1.75v88.84h-1.75zM463.58 374.45h1.75v89.05h-1.75zM465.6 374.09h1.75v89.41h-1.75zM467.62 373.66h1.75v89.84h-1.75zM475.7 371.95h1.75v91.55h-1.75zM477.72 371.52h1.75v91.98h-1.75zM479.74 371.09h1.75v92.41h-1.75zM481.76 371.17h1.75v92.33h-1.75zM483.78 372.37h1.75v91.13h-1.75zM485.8 373.56h1.75v89.94h-1.75zM487.82 374.75h1.75v88.75h-1.75zM489.84 375.94h1.75v87.56h-1.75zM508.02 379.3h1.75v84.2h-1.75zM510.04 379.3h1.75v84.2h-1.75zM512.06 379.3h1.75v84.2h-1.75zM514.08 379.3h1.75v84.2h-1.75zM516.1 379.3h1.75v84.2h-1.75zM518.12 379.3h1.75v84.2h-1.75zM520.14 379.3h1.75v84.2h-1.75zM522.16 379.3h1.75v84.2h-1.75zM524.18 379.3h1.75v84.2h-1.75zM526.2 379.3h1.75v84.2h-1.75zM528.22 379.3h1.75v84.2h-1.75zM530.24 379.28h1.75v84.22h-1.75zM532.26 378.87h1.75v84.63h-1.75zM534.28 378.47h1.75v85.03h-1.75zM536.3 378.06h1.75v85.44h-1.75zM538.32 377.66h1.75v85.84h-1.75zM540.34 377.26h1.75v86.24h-1.75zM542.36 376.85h1.75v86.65h-1.75zM544.38 376.95h1.75v86.55h-1.75zM546.4 377.36h1.75v86.14h-1.75zM548.42 377.76h1.75v85.74h-1.75zM550.44 378.16h1.75v85.34h-1.75zM552.46 378.57h1.75v84.93h-1.75zM554.48 378.97h1.75v84.53h-1.75zM556.5 379.51h1.75v83.99h-1.75zM558.52 380.63h1.75v82.87h-1.75zM560.54 381.75h1.75v81.75h-1.75zM562.56 382.86h1.75v80.64h-1.75zM564.58 383.98h1.75v79.52h-1.75zM566.6 385.1h1.75v78.4h-1.75zM576.7 385.04h1.75v78.46h-1.75zM578.72 384.65h1.75v78.85h-1.75zM580.74 384.27h1.75v79.23h-1.75zM582.76 383.97h1.75v79.53h-1.75zM584.78 383.88h1.75v79.62h-1.75zM586.8 383.78h1.75v79.72h-1.75zM588.82 383.68h1.75v79.82h-1.75zM590.84 383.59h1.75v79.91h-1.75zM607 385.8h1.75v77.7h-1.75zM609.02 386.47h1.75v77.03h-1.75zM611.04 386.89h1.75v76.61h-1.75zM613.06 387.31h1.75v76.19h-1.75zM625.18 389.82h1.75v73.68h-1.75zM627.2 390.44h1.75v73.06h-1.75zM629.22 391.05h1.75v72.45h-1.75zM631.24 391.67h1.75v71.83h-1.75zM633.26 392.29h1.75v71.21h-1.75zM635.28 392.91h1.75v70.59h-1.75zM637.3 393.53h1.75v69.97h-1.75zM639.32 394.15h1.75v69.35h-1.75zM641.34 394.75h1.75v68.75h-1.75zM643.36 395.27h1.75v68.23h-1.75zM645.38 395.78h1.75v67.72h-1.75zM647.4 396.29h1.75v67.21h-1.75zM649.42 396.8h1.75v66.7h-1.75zM651.44 397.31h1.75v66.19h-1.75zM653.46 397.82h1.75v65.68h-1.75zM655.48 398.33h1.75v65.17h-1.75zM657.5 398.84h1.75v64.66h-1.75zM659.52 399.19h1.75v64.31h-1.75zM677.7 401.68h1.75v61.82h-1.75zM679.72 401.96h1.75v61.54h-1.75zM681.74 402.23h1.75v61.27h-1.75zM683.76 402.5h1.75v61h-1.75zM685.78 402.78h1.75v60.72h-1.75zM687.8 403.05h1.75v60.45h-1.75zM689.82 403.32h1.75v60.18h-1.75zM691.84 403.59h1.75v59.91h-1.75zM693.86 403.84h1.75v59.66h-1.75zM695.88 404.09h1.75v59.41h-1.75zM697.9 404.35h1.75v59.15h-1.75zM699.92 404.6h1.75v58.9h-1.75zM701.94 404.85h1.75v58.65h-1.75zM703.96 405.1h1.75v58.4h-1.75zM705.98 405.36h1.75v58.14h-1.75zM708 405.53h1.75v57.97h-1.75zM710.02 405.59h1.75v57.91h-1.75zM712.04 405.65h1.75v57.85h-1.75zM714.06 405.72h1.75v57.78h-1.75zM716.08 405.78h1.75v57.72h-1.75zM718.1 405.84h1.75v57.66h-1.75zM720.12 405.91h1.75v57.59h-1.75zM722.14 405.97h1.75v57.53h-1.75zM724.16 405.96h1.75v57.54h-1.75zM726.18 405.88h1.75v57.62h-1.75zM728.2 405.8h1.75v57.7h-1.75zM730.22 405.73h1.75v57.77h-1.75zM732.24 405.65h1.75v57.85h-1.75zM734.26 405.57h1.75v57.93h-1.75zM736.28 405.43h1.75v58.07h-1.75zM738.3 404.56h1.75v58.94h-1.75zM740.32 403.7h1.75v59.8h-1.75zM742.34 402.83h1.75v60.67h-1.75zM744.36 401.96h1.75v61.54h-1.75zM746.38 401.03h1.75v62.47h-1.75zM748.4 399.72h1.75v63.78h-1.75zM750.42 398.41h1.75v65.09h-1.75zM752.44 397.1h1.75v66.4h-1.75zM754.46 395.78h1.75v67.72h-1.75zM756.48 394.53h1.75v68.97h-1.75zM758.5 393.54h1.75v69.96h-1.75zM760.52 392.55h1.75v70.95h-1.75zM768.6 388.87h1.75v74.63h-1.75zM770.62 388.11h1.75v75.39h-1.75zM772.64 387.34h1.75v76.16h-1.75zM774.66 386.58h1.75v76.92h-1.75zM792.84 379.15h1.75v84.35h-1.75zM794.86 377.81h1.75v85.69h-1.75zM796.88 376.48h1.75v87.02h-1.75zM798.9 375.15h1.75v88.35h-1.75zM806.98 375h1.75v88.5h-1.75zM809 375h1.75v88.5h-1.75zM811.02 375h1.75v88.5h-1.75zM813.04 375h1.75v88.5h-1.75zM815.06 375h1.75v88.5h-1.75zM817.08 374.82h1.75v88.68h-1.75zM819.1 374.63h1.75v88.87h-1.75zM821.12 374.44h1.75v89.06h-1.75zM839.3 373.13h1.75v90.37h-1.75zM841.32 373.06h1.75v90.44h-1.75zM843.34 372.98h1.75v90.52h-1.75zM845.36 372.9h1.75v90.6h-1.75zM847.38 372.83h1.75v90.67h-1.75zM849.4 372.9h1.75v90.6h-1.75zM851.42 373.05h1.75v90.45h-1.75zM869.6 373.61h1.75v89.89h-1.75zM871.62 373.47h1.75v90.03h-1.75zM873.64 373.33h1.75v90.17h-1.75zM875.66 373.19h1.75v90.31h-1.75zM877.68 373.04h1.75v90.46h-1.75zM879.7 372.9h1.75v90.6h-1.75zM881.72 372.64h1.75v90.86h-1.75zM883.74 372.1h1.75v91.4h-1.75zM885.76 371.55h1.75v91.95h-1.75zM887.78 371.01h1.75v92.49h-1.75zM889.8 370.47h1.75v93.03h-1.75zM891.82 369.93h1.75v93.57h-1.75zM893.84 369.38h1.75v94.12h-1.75zM895.86 368.84h1.75v94.66h-1.75zM897.88 366.21h1.75v97.29h-1.75zM899.9 360.1h1.75v103.4h-1.75zM901.92 353.98h1.75v109.52h-1.75zM903.94 347.86h1.75v115.64h-1.75zM905.96 342.8h1.75v120.7h-1.75zM907.98 337.86h1.75v125.64h-1.75zM910 332.91h1.75v130.59h-1.75zM912.02 330.74h1.75v132.76h-1.75zM914.04 328.76h1.75v134.74h-1.75zM916.06 326.78h1.75v136.72h-1.75zM918.08 324.8h1.75v138.7h-1.75zM920.1 322.82h1.75v140.68h-1.75zM922.12 321.48h1.75v142.02h-1.75zM924.14 320.15h1.75v143.35h-1.75zM926.16 318.82h1.75v144.68h-1.75zM928.18 317.48h1.75v146.02h-1.75zM930.2 316.21h1.75v147.29h-1.75zM984.74 325.1h1.75v138.4h-1.75zM986.76 324.78h1.75v138.72h-1.75zM988.78 324.46h1.75v139.04h-1.75zM990.8 324.5h1.75v139h-1.75zM992.82 324.62h1.75v138.88h-1.75zM994.84 324.74h1.75v138.76h-1.75zM996.86 324.86h1.75v138.64h-1.75zM998.88 324.99h1.75v138.51h-1.75zM1008.98 314.31h1.75v149.19h-1.75zM1011 313.3h1.75v150.2h-1.75zM1013.02 312.3h1.75v151.2h-1.75zM1055.44 296.38h1.75v167.12h-1.75zM1057.46 295.62h1.75v167.88h-1.75zM1059.48 294.87h1.75v168.63h-1.75zM1069.58 290.93h1.75v172.57h-1.75zM1071.6 289.92h1.75v173.58h-1.75zM1073.62 288.91h1.75v174.59h-1.75zM1075.64 287.9h1.75v175.6h-1.75zM1085.74 285.88h1.75v177.62h-1.75zM1087.76 289.42h1.75v174.08h-1.75zM1089.78 292.96h1.75v170.54h-1.75zM1091.8 301.42h1.75v162.08h-1.75zM1107.96 333.44h1.75v130.06h-1.75zM1109.98 335.46h1.75v128.04h-1.75zM1112 337.48h1.75v126.02h-1.75zM1114.02 339.5h1.75v124h-1.75zM1146.34 353.85h1.75v109.65h-1.75zM1148.36 352.75h1.75v110.75h-1.75zM1150.38 348.37h1.75v115.13h-1.75zM1152.4 342.21h1.75v121.29h-1.75zM1293.8 45.67h1.75v417.83h-1.75zM1295.82 40.35h1.75v423.15h-1.75zM1297.84 36.3h1.75v427.2h-1.75zM1299.86 34.63h1.75v428.87h-1.75z" fill="#d2d4e4"/>
<path d="M1 437.75h1.75v25.75h-1.75zM3.02 437.75h1.75v25.75h-1.75zM5.04 437.75h1.75v25.75h-1.75zM7.06 418.75h1.75v44.75h-1.75zM9.08 418.75h1.75v44.75h-1.75zM11.1 418.75h1.75v44.75h-1.75zM13.12 418.75h1.75v44.75h-1.75zM15.14 386h1.75v77.5h-1.75zM17.16 386h1.75v77.5h-1.75zM19.18 386h1.75v77.5h-1.75zM29.28 416.25h1.75v47.25h-1.75zM31.3 416.25h1.75v47.25h-1.75zM33.32 416.25h1.75v47.25h-1.75zM35.34 416.25h1.75v47.25h-1.75zM45.44 435.4h1.75v28.1h-1.75zM47.46 435.4h1.75v28.1h-1.75zM49.48 435.4h1.75v28.1h-1.75zM51.5 435.4h1.75v28.1h-1.75zM53.52 449.75h1.75v13.75h-1.75zM55.54 449.75h1.75v13.75h-1.75zM57.56 449.75h1.75v13.75h-1.75zM59.58 438h1.75v25.5h-1.75zM61.6 438h1.75v25.5h-1.75zM63.62 438h1.75v25.5h-1.75zM65.64 438h1.75v25.5h-1.75zM67.66 414h1.75v49.5h-1.75zM69.68 414h1.75v49.5h-1.75zM71.7 414h1.75v49.5h-1.75zM73.72 414h1.75v49.5h-1.75zM75.74 428h1.75v35.5h-1.75zM77.76 428h1.75v35.5h-1.75zM79.78 428h1.75v35.5h-1.75zM81.8 428h1.75v35.5h-1.75zM91.9 411h1.75v52.5h-1.75zM93.92 411h1.75v52.5h-1.75zM95.94 411h1.75v52.5h-1.75zM97.96 411h1.75v52.5h-1.75zM114.12 463h1.75v0.5h-1.75zM116.14 463h1.75v0.5h-1.75zM118.16 463h1.75v0.5h-1.75zM120.18 463h1.75v0.5h-1.75zM130.28 440.4h1.75v23.1h-1.75zM132.3 440.4h1.75v23.1h-1.75zM134.32 440.4h1.75v23.1h-1.75zM136.34 440.4h1.75v23.1h-1.75zM267.64 414.3h1.75v49.2h-1.75zM269.66 414.3h1.75v49.2h-1.75zM271.68 414.3h1.75v49.2h-1.75zM273.7 414.3h1.75v49.2h-1.75zM291.88 442h1.75v21.5h-1.75zM293.9 442h1.75v21.5h-1.75zM295.92 442h1.75v21.5h-1.75zM297.94 442h1.75v21.5h-1.75zM308.04 435h1.75v28.5h-1.75zM310.06 435h1.75v28.5h-1.75zM312.08 435h1.75v28.5h-1.75zM322.18 397h1.75v66.5h-1.75zM324.2 397h1.75v66.5h-1.75zM326.22 397h1.75v66.5h-1.75zM328.24 397h1.75v66.5h-1.75zM330.26 399.6h1.75v63.9h-1.75zM332.28 399.6h1.75v63.9h-1.75zM334.3 399.6h1.75v63.9h-1.75zM336.32 399.6h1.75v63.9h-1.75zM368.64 427.4h1.75v36.1h-1.75zM370.66 427.4h1.75v36.1h-1.75zM372.68 427.4h1.75v36.1h-1.75zM374.7 427.4h1.75v36.1h-1.75zM376.72 430.6h1.75v32.9h-1.75zM378.74 430.6h1.75v32.9h-1.75zM380.76 430.6h1.75v32.9h-1.75zM382.78 430.6h1.75v32.9h-1.75zM384.8 388h1.75v75.5h-1.75zM386.82 388h1.75v75.5h-1.75zM388.84 388h1.75v75.5h-1.75zM390.86 388h1.75v75.5h-1.75zM392.88 407h1.75v56.5h-1.75zM394.9 407h1.75v56.5h-1.75zM396.92 407h1.75v56.5h-1.75zM435.3 378h1.75v85.5h-1.75zM437.32 386.5h1.75v77h-1.75zM439.34 386.5h1.75v77h-1.75zM441.36 386.5h1.75v77h-1.75zM443.38 386.5h1.75v77h-1.75zM445.4 399.6h1.75v63.9h-1.75zM447.42 399.6h1.75v63.9h-1.75zM449.44 399.6h1.75v63.9h-1.75zM451.46 399.6h1.75v63.9h-1.75zM469.64 425.7h1.75v37.8h-1.75zM471.66 425.7h1.75v37.8h-1.75zM473.68 425.7h1.75v37.8h-1.75zM491.86 398h1.75v65.5h-1.75zM493.88 398h1.75v65.5h-1.75zM495.9 398h1.75v65.5h-1.75zM497.92 398h1.75v65.5h-1.75zM499.94 399.6h1.75v63.9h-1.75zM501.96 399.6h1.75v63.9h-1.75zM503.98 399.6h1.75v63.9h-1.75zM506 399.6h1.75v63.9h-1.75zM568.62 403h1.75v60.5h-1.75zM570.64 403h1.75v60.5h-1.75zM572.66 403h1.75v60.5h-1.75zM574.68 403h1.75v60.5h-1.75zM592.86 404h1.75v59.5h-1.75zM594.88 404h1.75v59.5h-1.75zM596.9 404h1.75v59.5h-1.75zM598.92 390h1.75v73.5h-1.75zM600.94 390h1.75v73.5h-1.75zM602.96 390h1.75v73.5h-1.75zM604.98 390h1.75v73.5h-1.75zM615.08 420.8h1.75v42.7h-1.75zM617.1 420.8h1.75v42.7h-1.75zM619.12 420.8h1.75v42.7h-1.75zM621.14 420.8h1.75v42.7h-1.75zM623.16 389.8h1.75v73.7h-1.75zM661.54 401.2h1.75v62.3h-1.75zM663.56 401.2h1.75v62.3h-1.75zM665.58 401.2h1.75v62.3h-1.75zM667.6 401.2h1.75v62.3h-1.75zM669.62 432.3h1.75v31.2h-1.75zM671.64 432.3h1.75v31.2h-1.75zM673.66 432.3h1.75v31.2h-1.75zM675.68 432.3h1.75v31.2h-1.75zM762.54 425h1.75v38.5h-1.75zM764.56 425h1.75v38.5h-1.75zM766.58 425h1.75v38.5h-1.75zM776.68 427.4h1.75v36.1h-1.75zM778.7 427.4h1.75v36.1h-1.75zM780.72 427.4h1.75v36.1h-1.75zM782.74 427.4h1.75v36.1h-1.75zM784.76 404.5h1.75v59h-1.75zM786.78 404.5h1.75v59h-1.75zM788.8 404.5h1.75v59h-1.75zM790.82 404.5h1.75v59h-1.75zM800.92 463h1.75v0.5h-1.75zM802.94 463h1.75v0.5h-1.75zM804.96 463h1.75v0.5h-1.75zM823.14 378h1.75v85.5h-1.75zM825.16 378h1.75v85.5h-1.75zM827.18 378h1.75v85.5h-1.75zM829.2 378h1.75v85.5h-1.75zM831.22 378h1.75v85.5h-1.75zM833.24 378h1.75v85.5h-1.75zM835.26 378h1.75v85.5h-1.75zM837.28 378h1.75v85.5h-1.75zM853.44 378h1.75v85.5h-1.75zM855.46 378h1.75v85.5h-1.75zM857.48 378h1.75v85.5h-1.75zM859.5 378h1.75v85.5h-1.75zM861.52 378h1.75v85.5h-1.75zM863.54 378h1.75v85.5h-1.75zM865.56 378h1.75v85.5h-1.75zM867.58 378h1.75v85.5h-1.75zM932.22 373.7h1.75v89.8h-1.75zM934.24 373.7h1.75v89.8h-1.75zM936.26 373.7h1.75v89.8h-1.75zM938.28 400h1.75v63.5h-1.75zM940.3 400h1.75v63.5h-1.75zM942.32 400h1.75v63.5h-1.75zM944.34 400h1.75v63.5h-1.75zM946.36 414h1.75v49.5h-1.75zM948.38 414h1.75v49.5h-1.75zM950.4 414h1.75v49.5h-1.75zM952.42 414h1.75v49.5h-1.75zM954.44 433h1.75v30.5h-1.75zM956.46 433h1.75v30.5h-1.75zM958.48 433h1.75v30.5h-1.75zM960.5 433h1.75v30.5h-1.75zM962.52 419h1.75v44.5h-1.75zM964.54 419h1.75v44.5h-1.75zM966.56 419h1.75v44.5h-1.75zM968.58 419h1.75v44.5h-1.75zM970.6 365h1.75v98.5h-1.75zM972.62 365h1.75v98.5h-1.75zM974.64 365h1.75v98.5h-1.75zM976.66 347.3h1.75v116.2h-1.75zM978.68 347.3h1.75v116.2h-1.75zM980.7 347.3h1.75v116.2h-1.75zM982.72 347.3h1.75v116.2h-1.75zM1000.9 416.6h1.75v46.9h-1.75zM1002.92 416.6h1.75v46.9h-1.75zM1004.94 416.6h1.75v46.9h-1.75zM1006.96 416.6h1.75v46.9h-1.75zM1015.04 326h1.75v137.5h-1.75zM1017.06 326h1.75v137.5h-1.75zM1019.08 326h1.75v137.5h-1.75zM1021.1 326h1.75v137.5h-1.75zM1023.12 346.6h1.75v116.9h-1.75zM1025.14 346.6h1.75v116.9h-1.75zM1027.16 346.6h1.75v116.9h-1.75zM1029.18 346.6h1.75v116.9h-1.75zM1031.2 340.8h1.75v122.7h-1.75zM1033.22 340.8h1.75v122.7h-1.75zM1035.24 340.8h1.75v122.7h-1.75zM1037.26 340.8h1.75v122.7h-1.75zM1039.28 420.8h1.75v42.7h-1.75zM1041.3 420.8h1.75v42.7h-1.75zM1043.32 420.8h1.75v42.7h-1.75zM1045.34 420.8h1.75v42.7h-1.75zM1047.36 337.5h1.75v126h-1.75zM1049.38 337.5h1.75v126h-1.75zM1051.4 337.5h1.75v126h-1.75zM1053.42 337.5h1.75v126h-1.75zM1061.5 390.4h1.75v73.1h-1.75zM1063.52 390.4h1.75v73.1h-1.75zM1065.54 390.4h1.75v73.1h-1.75zM1067.56 390.4h1.75v73.1h-1.75zM1077.66 337.5h1.75v126h-1.75zM1079.68 337.5h1.75v126h-1.75zM1081.7 337.5h1.75v126h-1.75zM1083.72 337.5h1.75v126h-1.75zM1093.82 380.6h1.75v82.9h-1.75zM1095.84 380.6h1.75v82.9h-1.75zM1097.86 380.6h1.75v82.9h-1.75zM1099.88 339h1.75v124.5h-1.75zM1101.9 339h1.75v124.5h-1.75zM1103.92 339h1.75v124.5h-1.75zM1105.94 339h1.75v124.5h-1.75zM1116.04 382.6h1.75v80.9h-1.75zM1118.06 382.6h1.75v80.9h-1.75zM1120.08 382.6h1.75v80.9h-1.75zM1122.1 382.6h1.75v80.9h-1.75zM1124.12 364.3h1.75v99.2h-1.75zM1126.14 364.3h1.75v99.2h-1.75zM1128.16 364.3h1.75v99.2h-1.75zM1130.18 364.3h1.75v99.2h-1.75zM1132.2 392.4h1.75v71.1h-1.75zM1134.22 392.4h1.75v71.1h-1.75zM1136.24 392.4h1.75v71.1h-1.75zM1138.26 392.4h1.75v71.1h-1.75zM1140.28 402.2h1.75v61.3h-1.75zM1142.3 402.2h1.75v61.3h-1.75zM1144.32 402.2h1.75v61.3h-1.75zM1154.42 330.3h1.75v133.2h-1.75zM1156.44 330.3h1.75v133.2h-1.75zM1158.46 330.3h1.75v133.2h-1.75zM1160.48 330.3h1.75v133.2h-1.75zM1162.5 281h1.75v182.5h-1.75zM1164.52 281h1.75v182.5h-1.75zM1166.54 281h1.75v182.5h-1.75zM1168.56 281h1.75v182.5h-1.75zM1170.58 364.3h1.75v99.2h-1.75zM1172.6 364.3h1.75v99.2h-1.75zM1174.62 364.3h1.75v99.2h-1.75zM1176.64 364.3h1.75v99.2h-1.75zM1178.66 214.5h1.75v249h-1.75zM1180.68 214.5h1.75v249h-1.75zM1182.7 214.5h1.75v249h-1.75zM1184.72 309.7h1.75v153.8h-1.75zM1186.74 309.7h1.75v153.8h-1.75zM1188.76 309.7h1.75v153.8h-1.75zM1190.78 309.7h1.75v153.8h-1.75zM1192.8 274h1.75v189.5h-1.75zM1194.82 274h1.75v189.5h-1.75zM1196.84 274h1.75v189.5h-1.75zM1198.86 274h1.75v189.5h-1.75zM1200.88 335.8h1.75v127.7h-1.75zM1202.9 335.8h1.75v127.7h-1.75zM1204.92 335.8h1.75v127.7h-1.75zM1206.94 335.8h1.75v127.7h-1.75zM1208.96 316.2h1.75v147.3h-1.75zM1210.98 316.2h1.75v147.3h-1.75zM1213 316.2h1.75v147.3h-1.75zM1215.02 316.2h1.75v147.3h-1.75zM1217.04 404.5h1.75v59h-1.75zM1219.06 404.5h1.75v59h-1.75zM1221.08 404.5h1.75v59h-1.75zM1223.1 378.3h1.75v85.2h-1.75zM1225.12 378.3h1.75v85.2h-1.75zM1227.14 378.3h1.75v85.2h-1.75zM1229.16 378.3h1.75v85.2h-1.75zM1231.18 350h1.75v113.5h-1.75zM1233.2 350h1.75v113.5h-1.75zM1235.22 350h1.75v113.5h-1.75zM1237.24 350h1.75v113.5h-1.75zM1239.26 293h1.75v170.5h-1.75zM1241.28 293h1.75v170.5h-1.75zM1243.3 293h1.75v170.5h-1.75zM1245.32 293h1.75v170.5h-1.75zM1247.34 300h1.75v163.5h-1.75zM1249.36 300h1.75v163.5h-1.75zM1251.38 300h1.75v163.5h-1.75zM1253.4 300h1.75v163.5h-1.75zM1255.42 310h1.75v153.5h-1.75zM1257.44 310h1.75v153.5h-1.75zM1259.46 310h1.75v153.5h-1.75zM1261.48 310h1.75v153.5h-1.75zM1263.5 354.8h1.75v108.7h-1.75zM1265.52 354.8h1.75v108.7h-1.75zM1267.54 354.8h1.75v108.7h-1.75zM1269.56 274h1.75v189.5h-1.75zM1271.58 274h1.75v189.5h-1.75zM1273.6 274h1.75v189.5h-1.75zM1275.62 274h1.75v189.5h-1.75zM1277.64 210.2h1.75v253.3h-1.75zM1279.66 210.2h1.75v253.3h-1.75zM1281.68 210.2h1.75v253.3h-1.75zM1283.7 210.2h1.75v253.3h-1.75zM1285.72 150.8h1.75v312.7h-1.75zM1287.74 150.8h1.75v312.7h-1.75zM1289.76 150.8h1.75v312.7h-1.75zM1291.78 150.8h1.75v312.7h-1.75zM1301.88 190.8h1.75v272.7h-1.75zM1303.9 190.8h1.75v272.7h-1.75zM1305.92 190.8h1.75v272.7h-1.75zM1307.94 300h1.75v163.5h-1.75zM1309.96 300h1.75v163.5h-1.75zM1311.98 300h1.75v163.5h-1.75zM1314 300h1.75v163.5h-1.75zM1316.02 343h1.75v120.5h-1.75zM1318.04 343h1.75v120.5h-1.75zM1320.06 343h1.75v120.5h-1.75zM1322.08 343h1.75v120.5h-1.75zM1324.1 231.4h1.75v232.1h-1.75zM1326.12 231.4h1.75v232.1h-1.75zM1328.14 231.4h1.75v232.1h-1.75zM1330.16 231.4h1.75v232.1h-1.75zM1332.18 371h1.75v92.5h-1.75zM1334.2 371h1.75v92.5h-1.75zM1336.22 371h1.75v92.5h-1.75zM1338.24 371h1.75v92.5h-1.75zM1340.26 362h1.75v101.5h-1.75zM1342.28 362h1.75v101.5h-1.75zM1344.3 362h1.75v101.5h-1.75zM1346.32 290.9h1.75v172.6h-1.75zM1348.34 290.9h1.75v172.6h-1.75zM1350.36 290.9h1.75v172.6h-1.75zM1352.38 290.9h1.75v172.6h-1.75zM1354.4 357h1.75v106.5h-1.75zM1356.42 357h1.75v106.5h-1.75zM1358.44 357h1.75v106.5h-1.75zM1360.46 357h1.75v106.5h-1.75zM1362.48 340h1.75v123.5h-1.75zM1364.5 340h1.75v123.5h-1.75zM1366.52 340h1.75v123.5h-1.75zM1368.54 340h1.75v123.5h-1.75zM1370.56 302h1.75v161.5h-1.75zM1372.58 302h1.75v161.5h-1.75zM1374.6 302h1.75v161.5h-1.75zM1376.62 302h1.75v161.5h-1.75zM1378.64 276.4h1.75v187.1h-1.75zM1380.66 276.4h1.75v187.1h-1.75zM1382.68 276.4h1.75v187.1h-1.75zM1384.7 276.4h1.75v187.1h-1.75zM1386.72 362h1.75v101.5h-1.75zM1388.74 362h1.75v101.5h-1.75zM1390.76 362h1.75v101.5h-1.75zM1392.78 362h1.75v101.5h-1.75z" fill="#6ad6f2"/>
<polygon points="0,390 44.6,390 45.1,337 229.4,337 230,462 414.6,462 415.1,415 600.2,415 600.8,393 784.6,393 785,387.2 969.3,387.2 969.8,313.6 1153.8,313.6 1154.6,69.8 1339,69.8 1340.4,11.5 1396,11.5 1396,463 0,463" fill="rgba(232,66,72,0.16)"/>
<polyline points="0,264.5 44,264.5 45.5,189.4 229.4,189.4 230.6,297 413.8,297 414.8,285.1 598.5,285.1 599.5,308.7 784,308.7 785.2,246.6 968.3,246.6 970,271 1153.6,271 1155.2,11 1338.3,11 1338.6,462.5 1396,462.5" fill="none" stroke="#e9b949" stroke-width="1.5"/>
<polyline points="0,390 44.6,390 45.1,337 229.4,337 230,462 414.6,462 415.1,415 600.2,415 600.8,393 784.6,393 785,387.2 969.3,387.2 969.8,313.6 1153.8,313.6 1154.6,69.8 1339,69.8 1340.4,11.5 1396,11.5" fill="none" stroke="#dc5454" stroke-width="1.9"/>
<polyline points="0,158.3 412,158.3 414.5,162.9 598,162.9 599,164 784,164 785,161 968.3,161 970.6,308.3 1153.6,308.3 1156,313 1337,313" fill="none" stroke="#5671e0" stroke-width="1.8"/>
<polyline points="1,406.92 3.85,406.92 9.23,403.08 13.85,403.08 16.92,406.15 21.54,412.31 24.62,413.08 28.46,410.77 32.31,410 35.38,410.77 40,408.46 46.15,405.08 48.46,409.23 50.77,397.69 54.62,389.23 57.69,384.62 61.54,396.15 65.38,393.08 69.23,396.15 72.31,393.85 76.92,389.23 81.54,392.31 86.92,390.77 92.31,395.38 96.15,394.62 101.54,397.69 107.69,395.38 113.85,396.15 116.92,392.31 121.54,391.54 124.62,388.46 129.23,385.38 132.31,389.23 135.38,388.46 137.69,383.08 140,385.38 143.08,382.31 147.69,377.69 150.77,380.77 153.85,382.31 156.92,386.15 160,383.08 163.08,384.62 166.92,384.62 170,386.15 173.08,388.46 175.38,385.38 180,385.38 184.62,383.08 189.23,378.46 193.85,372.31 197.69,373.08 200.77,376.92 203.85,378.46 207.69,384.62 212.31,377.69 218.46,380 223.08,376.92 227.69,377.69 230.77,373.85 233.85,377.69 236.92,375.38 240,380.77 244.62,386.92 247.69,390 251.54,391.54 255.38,388.46 260,384.62 266.15,378.46 272.31,383.08 275.38,377.69 280,380.77 283.8,383 287.7,388.8 292.5,388 297.3,393.7 299.2,401.3 301.2,419.6 305,426.3 311.7,417.7 314.6,421.5 319.4,428.3 323.3,427.3 327.1,430.8 331.9,423.5 336.7,422.5 340.6,417.7 344.4,413.8 350.2,422.5 354,418.7 358.8,423.5 362.3,420.6 364,400.4 365.6,408 369.4,422.5 375.2,421.5 377.1,454.2 379,444.6 383.8,444.6 386.7,449.4 390.6,445.6 395.4,443 400,444.62 403.85,447.5 407.69,443.65 413.46,436.92 417.31,435 420.19,437.88 424.04,430.19 426.92,406.15 429.23,415.77 432.69,401.35 436.54,406.15 440.38,405.19 443.27,408.08 446.15,414.81 450.96,416.73 455.77,415.77 458.65,417.69 461.54,422.5 466.35,412.88 468.27,417.69 471.15,409.04 475.96,403.27 479.81,406.15 483.65,410 485.58,406.15 489.42,409.04 493.27,412.88 498.08,417.69 503.85,415.77 509.62,413.85 512.5,417.69 516.35,411.92 520.19,408.08 526.92,410 532.69,403.27 540,405.19 543.85,391.73 548.65,394.62 552.5,395.58 556.35,393.65 560.19,396.54 564.04,396.54 567.88,392.69 570.77,397.5 573.65,405.19 575.58,401.35 578.46,407.12 581.35,415.77 585.19,416.73 588.08,418.65 590.96,407.12 594.81,409.04 598.65,405.19 602.5,406.15 607.31,404.62 613.08,406.15 615.96,405.19 618.85,407.12 622.69,406.15 627.5,410.96 632.31,409.04 638.08,411.92 644.81,414.81 649.62,416.73 655.38,422.5 660.19,420.58 664.04,428.27 669.81,432.12 672.69,429.23 680,428.79 684.61,424.18 690.38,421.87 696.14,423.03 701.91,419.57 706.52,421.87 711.13,420.72 713.44,425.33 716.9,426.49 720.36,432.25 722.67,436.86 726.13,435.71 730.74,441.48 734.2,439.17 737.66,444.94 739.96,448.39 744.58,440.32 746.88,425.33 749.19,428.79 752.65,408.04 756.11,405.73 759.57,395.35 763.03,391.89 767.64,390.74 772.25,388.43 775.71,391.89 779.17,382.67 782.63,387.28 787.24,383.82 791.39,359.6 794.16,367.68 797.62,374.59 801.08,373.44 805.69,380.36 810.3,378.05 814.92,378.05 819.99,374.59 826,372.8 832.7,380.6 839,383.2 845.8,381.6 852.3,383.2 858.8,380.6 865.4,379.3 872,380.6 878.4,379.3 880,379.8 884.6,380.5 890.4,385 896.2,372.4 898.5,377 900.8,385 903.1,372.4 905.4,349.3 907.7,326.2 910,315.8 912.3,310 914.6,315.8 917,305.4 919.3,295 921.6,299.6 923.9,298.5 927.3,298.5 929.7,303 932,317 934.3,334.3 937.7,336.6 941.2,341.2 944.7,342.4 948.1,338.9 950.4,345.8 952.7,365.5 955,367.8 957.4,356.2 960.8,350.4 963.1,356.2 966.6,369 970,360.8 973.5,362 977,359.7 981.6,362 986.2,367.8 990.9,371.2 995.5,365.5 1000,359.62 1003.46,342.31 1006.92,326.16 1009.23,334.23 1015,333.08 1018.46,340 1024.23,342.31 1028.85,350.39 1034.62,346.93 1039.23,348.08 1042.7,315.77 1045,321.54 1047.31,315.77 1049.62,331.93 1054.23,334.23 1056.54,338.85 1060,334.23 1064.62,333.08 1066.93,323.85 1070.39,334.23 1076.16,344.62 1080.78,351.54 1084.24,336.54 1087.7,329.62 1091.16,337.7 1095.78,334.23 1100.39,338.85 1106.16,331.93 1110.78,342.31 1115.39,338.85 1118.86,343.47 1125.78,342.31 1131.55,338.85 1136.16,338.85 1140.78,334.23 1145.4,325 1148.86,320.39 1149.2,320 1151.4,297.7 1152.7,305 1154.2,300 1155.5,270 1157,200 1158.76,156.13 1161.53,153.82 1162.68,126.14 1164.99,160.74 1166.61,156.13 1168.91,183.8 1171.22,164.2 1174.22,160.74 1176.52,149.21 1178.83,163.04 1180.67,151.51 1182.75,171.12 1185.75,167.66 1188.05,172.27 1190.36,168.81 1193.82,175.73 1196.13,210.32 1198.43,204.56 1201.2,210.32 1204.2,196.49 1207.66,188.41 1212.73,197.64 1216.88,183.8 1220.34,174.58 1224.95,173.42 1228.41,179.19 1231.87,173.42 1235.33,166.5 1237.64,157.28 1240.41,167.66 1244.56,166.5 1248.02,169.96 1251.94,180.34 1256.09,171.12 1260.7,160.74 1265.31,156.13 1271.08,148.05 1274.54,157.28 1279.15,152.67 1280.1,148.54 1281,153.82 1281.54,124.03 1282.61,110 1282.98,86.53 1284.42,77.88 1285.86,27.4 1287.88,20.19 1290.19,41.82 1292.5,27.4 1294.52,40.38 1297.4,67.78 1300.29,59.13 1303.17,56.24 1306.05,60.57 1308.94,54.8 1311.82,60.57 1314.71,73.55 1318.46,53.36 1321.92,62.01 1326.24,64.9 1329.13,66.34 1332.01,72.11 1334.9,86.53 1337.78,102.39 1340.67,115.37 1343.55,124.03 1346.43,134.12 1349.32,126.91 1353.65,118.26 1357.97,121.14 1362.3,124.03 1365.18,108.16 1369.51,98.07 1372.39,82.2 1375.28,69.22 1378.16,82.2 1381.05,59.13 1383.93,72.11 1388.26,82.2 1392.58,74.99 1396.05,76.43" fill="none" stroke="#3fcc5c" stroke-width="1.45" stroke-linejoin="round"/>
<line x1="1416" y1="5" x2="1416" y2="463.5" stroke="#2e9a4c" stroke-width="1.2"/>
<line x1="1456" y1="5" x2="1456" y2="463.5" stroke="#b84a4e" stroke-width="1.2"/>
<line x1="1496" y1="5" x2="1496" y2="463.5" stroke="#b48d3c" stroke-width="1.2"/>
<text x="1420.7" y="9.3" font-family="Liberation Sans" font-size="10" fill="#8a8fa0" textLength="33" lengthAdjust="spacingAndGlyphs">0.000016</text>
<text x="1461.1" y="9.3" font-family="Liberation Sans" font-size="10" fill="#8a8fa0" textLength="26.5" lengthAdjust="spacingAndGlyphs">25.18%</text>
<text x="1500.9" y="9.3" font-family="Liberation Sans" font-size="10" fill="#8a8fa0" textLength="17.1" lengthAdjust="spacingAndGlyphs">4620</text>
<text x="1420.7" y="66.55" font-family="Liberation Sans" font-size="10" fill="#8a8fa0" textLength="33" lengthAdjust="spacingAndGlyphs">0.000015</text>
<text x="1461.1" y="66.55" font-family="Liberation Sans" font-size="10" fill="#8a8fa0" textLength="26.5" lengthAdjust="spacingAndGlyphs">22.76%</text>
<text x="1500.9" y="66.55" font-family="Liberation Sans" font-size="10" fill="#8a8fa0" textLength="17.1" lengthAdjust="spacingAndGlyphs">4111</text>
<text x="1420.7" y="123.8" font-family="Liberation Sans" font-size="10" fill="#8a8fa0" textLength="33" lengthAdjust="spacingAndGlyphs">0.000015</text>
<text x="1461.1" y="123.8" font-family="Liberation Sans" font-size="10" fill="#8a8fa0" textLength="26.5" lengthAdjust="spacingAndGlyphs">20.35%</text>
<text x="1500.9" y="123.8" font-family="Liberation Sans" font-size="10" fill="#8a8fa0" textLength="17.1" lengthAdjust="spacingAndGlyphs">3601</text>
<text x="1420.7" y="181.05" font-family="Liberation Sans" font-size="10" fill="#8a8fa0" textLength="33" lengthAdjust="spacingAndGlyphs">0.000014</text>
<text x="1461.1" y="181.05" font-family="Liberation Sans" font-size="10" fill="#8a8fa0" textLength="26.5" lengthAdjust="spacingAndGlyphs">17.93%</text>
<text x="1500.9" y="181.05" font-family="Liberation Sans" font-size="10" fill="#8a8fa0" textLength="17.1" lengthAdjust="spacingAndGlyphs">3092</text>
<text x="1420.7" y="238.3" font-family="Liberation Sans" font-size="10" fill="#8a8fa0" textLength="33" lengthAdjust="spacingAndGlyphs">0.000013</text>
<text x="1461.1" y="238.3" font-family="Liberation Sans" font-size="10" fill="#8a8fa0" textLength="26.5" lengthAdjust="spacingAndGlyphs">15.51%</text>
<text x="1500.9" y="238.3" font-family="Liberation Sans" font-size="10" fill="#8a8fa0" textLength="17.1" lengthAdjust="spacingAndGlyphs">2582</text>
<text x="1420.7" y="295.55" font-family="Liberation Sans" font-size="10" fill="#8a8fa0" textLength="33" lengthAdjust="spacingAndGlyphs">0.000013</text>
<text x="1461.1" y="295.55" font-family="Liberation Sans" font-size="10" fill="#8a8fa0" textLength="26.5" lengthAdjust="spacingAndGlyphs">13.09%</text>
<text x="1500.9" y="295.55" font-family="Liberation Sans" font-size="10" fill="#8a8fa0" textLength="17.1" lengthAdjust="spacingAndGlyphs">2073</text>
<text x="1420.7" y="352.8" font-family="Liberation Sans" font-size="10" fill="#8a8fa0" textLength="33" lengthAdjust="spacingAndGlyphs">0.000012</text>
<text x="1461.1" y="352.8" font-family="Liberation Sans" font-size="10" fill="#8a8fa0" textLength="26.5" lengthAdjust="spacingAndGlyphs">10.67%</text>
<text x="1500.9" y="352.8" font-family="Liberation Sans" font-size="10" fill="#8a8fa0" textLength="17.1" lengthAdjust="spacingAndGlyphs">1563</text>
<text x="1420.7" y="410.05" font-family="Liberation Sans" font-size="10" fill="#8a8fa0" textLength="33" lengthAdjust="spacingAndGlyphs">0.000012</text>
<text x="1461.1" y="410.05" font-family="Liberation Sans" font-size="10" fill="#8a8fa0" textLength="26.5" lengthAdjust="spacingAndGlyphs">8.255%</text>
<text x="1500.9" y="410.05" font-family="Liberation Sans" font-size="10" fill="#8a8fa0" textLength="17.1" lengthAdjust="spacingAndGlyphs">1054</text>
<text x="1420.7" y="467.3" font-family="Liberation Sans" font-size="10" fill="#8a8fa0" textLength="33" lengthAdjust="spacingAndGlyphs">0.000011</text>
<text x="1461.1" y="467.3" font-family="Liberation Sans" font-size="10" fill="#8a8fa0" textLength="26.5" lengthAdjust="spacingAndGlyphs">5.837%</text>
<rect x="1418" y="72.5" width="37" height="9.8" fill="#2fb44d"/>
<text x="1420.5" y="80.8" font-family="Liberation Sans" font-size="9.5" fill="#ffffff" textLength="32.5" lengthAdjust="spacingAndGlyphs">0.000015</text>
<rect x="1458" y="6.8" width="32" height="9.6" fill="#e85a5a"/>
<text x="1460.5" y="14.9" font-family="Liberation Sans" font-size="9.5" fill="#ffffff" textLength="27" lengthAdjust="spacingAndGlyphs">24.93%</text>
<rect x="1498" y="457.5" width="18.7" height="10.5" fill="#f3c443"/>
<text x="1500.3" y="466.3" font-family="Liberation Sans" font-size="9.5" fill="#1b1e2d" textLength="14" lengthAdjust="spacingAndGlyphs">550</text>
<text x="3.8" y="475.6" font-family="Liberation Sans" font-size="10" fill="#8a8fa0" textLength="35.3" lengthAdjust="spacingAndGlyphs">28 Jan 23</text>
<text x="123" y="475.6" font-family="Liberation Sans" font-size="10" fill="#8a8fa0" textLength="35.3" lengthAdjust="spacingAndGlyphs">29 Jan 23</text>
<text x="263.7" y="475.6" font-family="Liberation Sans" font-size="10" fill="#8a8fa0" textLength="35.3" lengthAdjust="spacingAndGlyphs">30 Jan 23</text>
<text x="404" y="475.6" font-family="Liberation Sans" font-size="10" fill="#8a8fa0" textLength="35.3" lengthAdjust="spacingAndGlyphs">31 Jan 23</text>
<text x="544" y="475.6" font-family="Liberation Sans" font-size="10" fill="#8a8fa0" textLength="35.3" lengthAdjust="spacingAndGlyphs">01 Feb 23</text>
<text x="685" y="475.6" font-family="Liberation Sans" font-size="10" fill="#8a8fa0" textLength="35.3" lengthAdjust="spacingAndGlyphs">01 Feb 23</text>
<text x="825.5" y="475.6" font-family="Liberation Sans" font-size="10" fill="#8a8fa0" textLength="35.3" lengthAdjust="spacingAndGlyphs">02 Feb 23</text>
<text x="966" y="475.6" font-family="Liberation Sans" font-size="10" fill="#8a8fa0" textLength="35.3" lengthAdjust="spacingAndGlyphs">03 Feb 23</text>
<text x="1106.8" y="475.6" font-family="Liberation Sans" font-size="10" fill="#8a8fa0" textLength="35.3" lengthAdjust="spacingAndGlyphs">04 Feb 23</text>
<text x="1247" y="475.6" font-family="Liberation Sans" font-size="10" fill="#8a8fa0" textLength="35.3" lengthAdjust="spacingAndGlyphs">04 Feb 23</text>
<text x="1394" y="475.6" font-family="Liberation Sans" font-size="10" fill="#8a8fa0" textLength="35.3" lengthAdjust="spacingAndGlyphs">05 Feb 23</text>
<rect x="296.9" y="496.7" width="7.3" height="7.2" fill="#33c75a"/>
<text x="308.5" y="504" font-family="Liberation Sans" font-size="11" fill="#d8dbe5" textLength="61" lengthAdjust="spacingAndGlyphs">Price (SHIB)</text>
<rect x="385.6" y="496.7" width="7.3" height="7.2" fill="#ec5f5f"/>
<text x="397.2" y="504" font-family="Liberation Sans" font-size="11" fill="#d8dbe5" textLength="126.8" lengthAdjust="spacingAndGlyphs">MVRV Ratio (30d) (SHIB)</text>
<rect x="540.4" y="496.7" width="7.3" height="7.2" fill="#f4c644"/>
<text x="551" y="504" font-family="Liberation Sans" font-size="11" fill="#d8dbe5" textLength="121" lengthAdjust="spacingAndGlyphs">Network Growth (SHIB)</text>
<rect x="688.5" y="496.7" width="7.3" height="7.2" fill="#5876ee"/>
<text x="700" y="504" font-family="Liberation Sans" font-size="11" fill="#d8dbe5" textLength="300.4" lengthAdjust="spacingAndGlyphs">Supply held by top addresses (as % of total supply) (SHIB)</text>
<rect x="1016" y="496.7" width="7.3" height="7.2" fill="#5bd3f0"/>
<text x="1027.4" y="504" font-family="Liberation Sans" font-size="11" fill="#d8dbe5" textLength="109.6" lengthAdjust="spacingAndGlyphs">Social Volume (SHIB)</text>
<rect x="1152.7" y="496.7" width="7.3" height="7.2" fill="#d3d3e3"/>
<text x="1164" y="504" font-family="Liberation Sans" font-size="11" fill="#d8dbe5" textLength="75" lengthAdjust="spacingAndGlyphs">Volume (SHIB)</text>
</svg>

</body></html>
